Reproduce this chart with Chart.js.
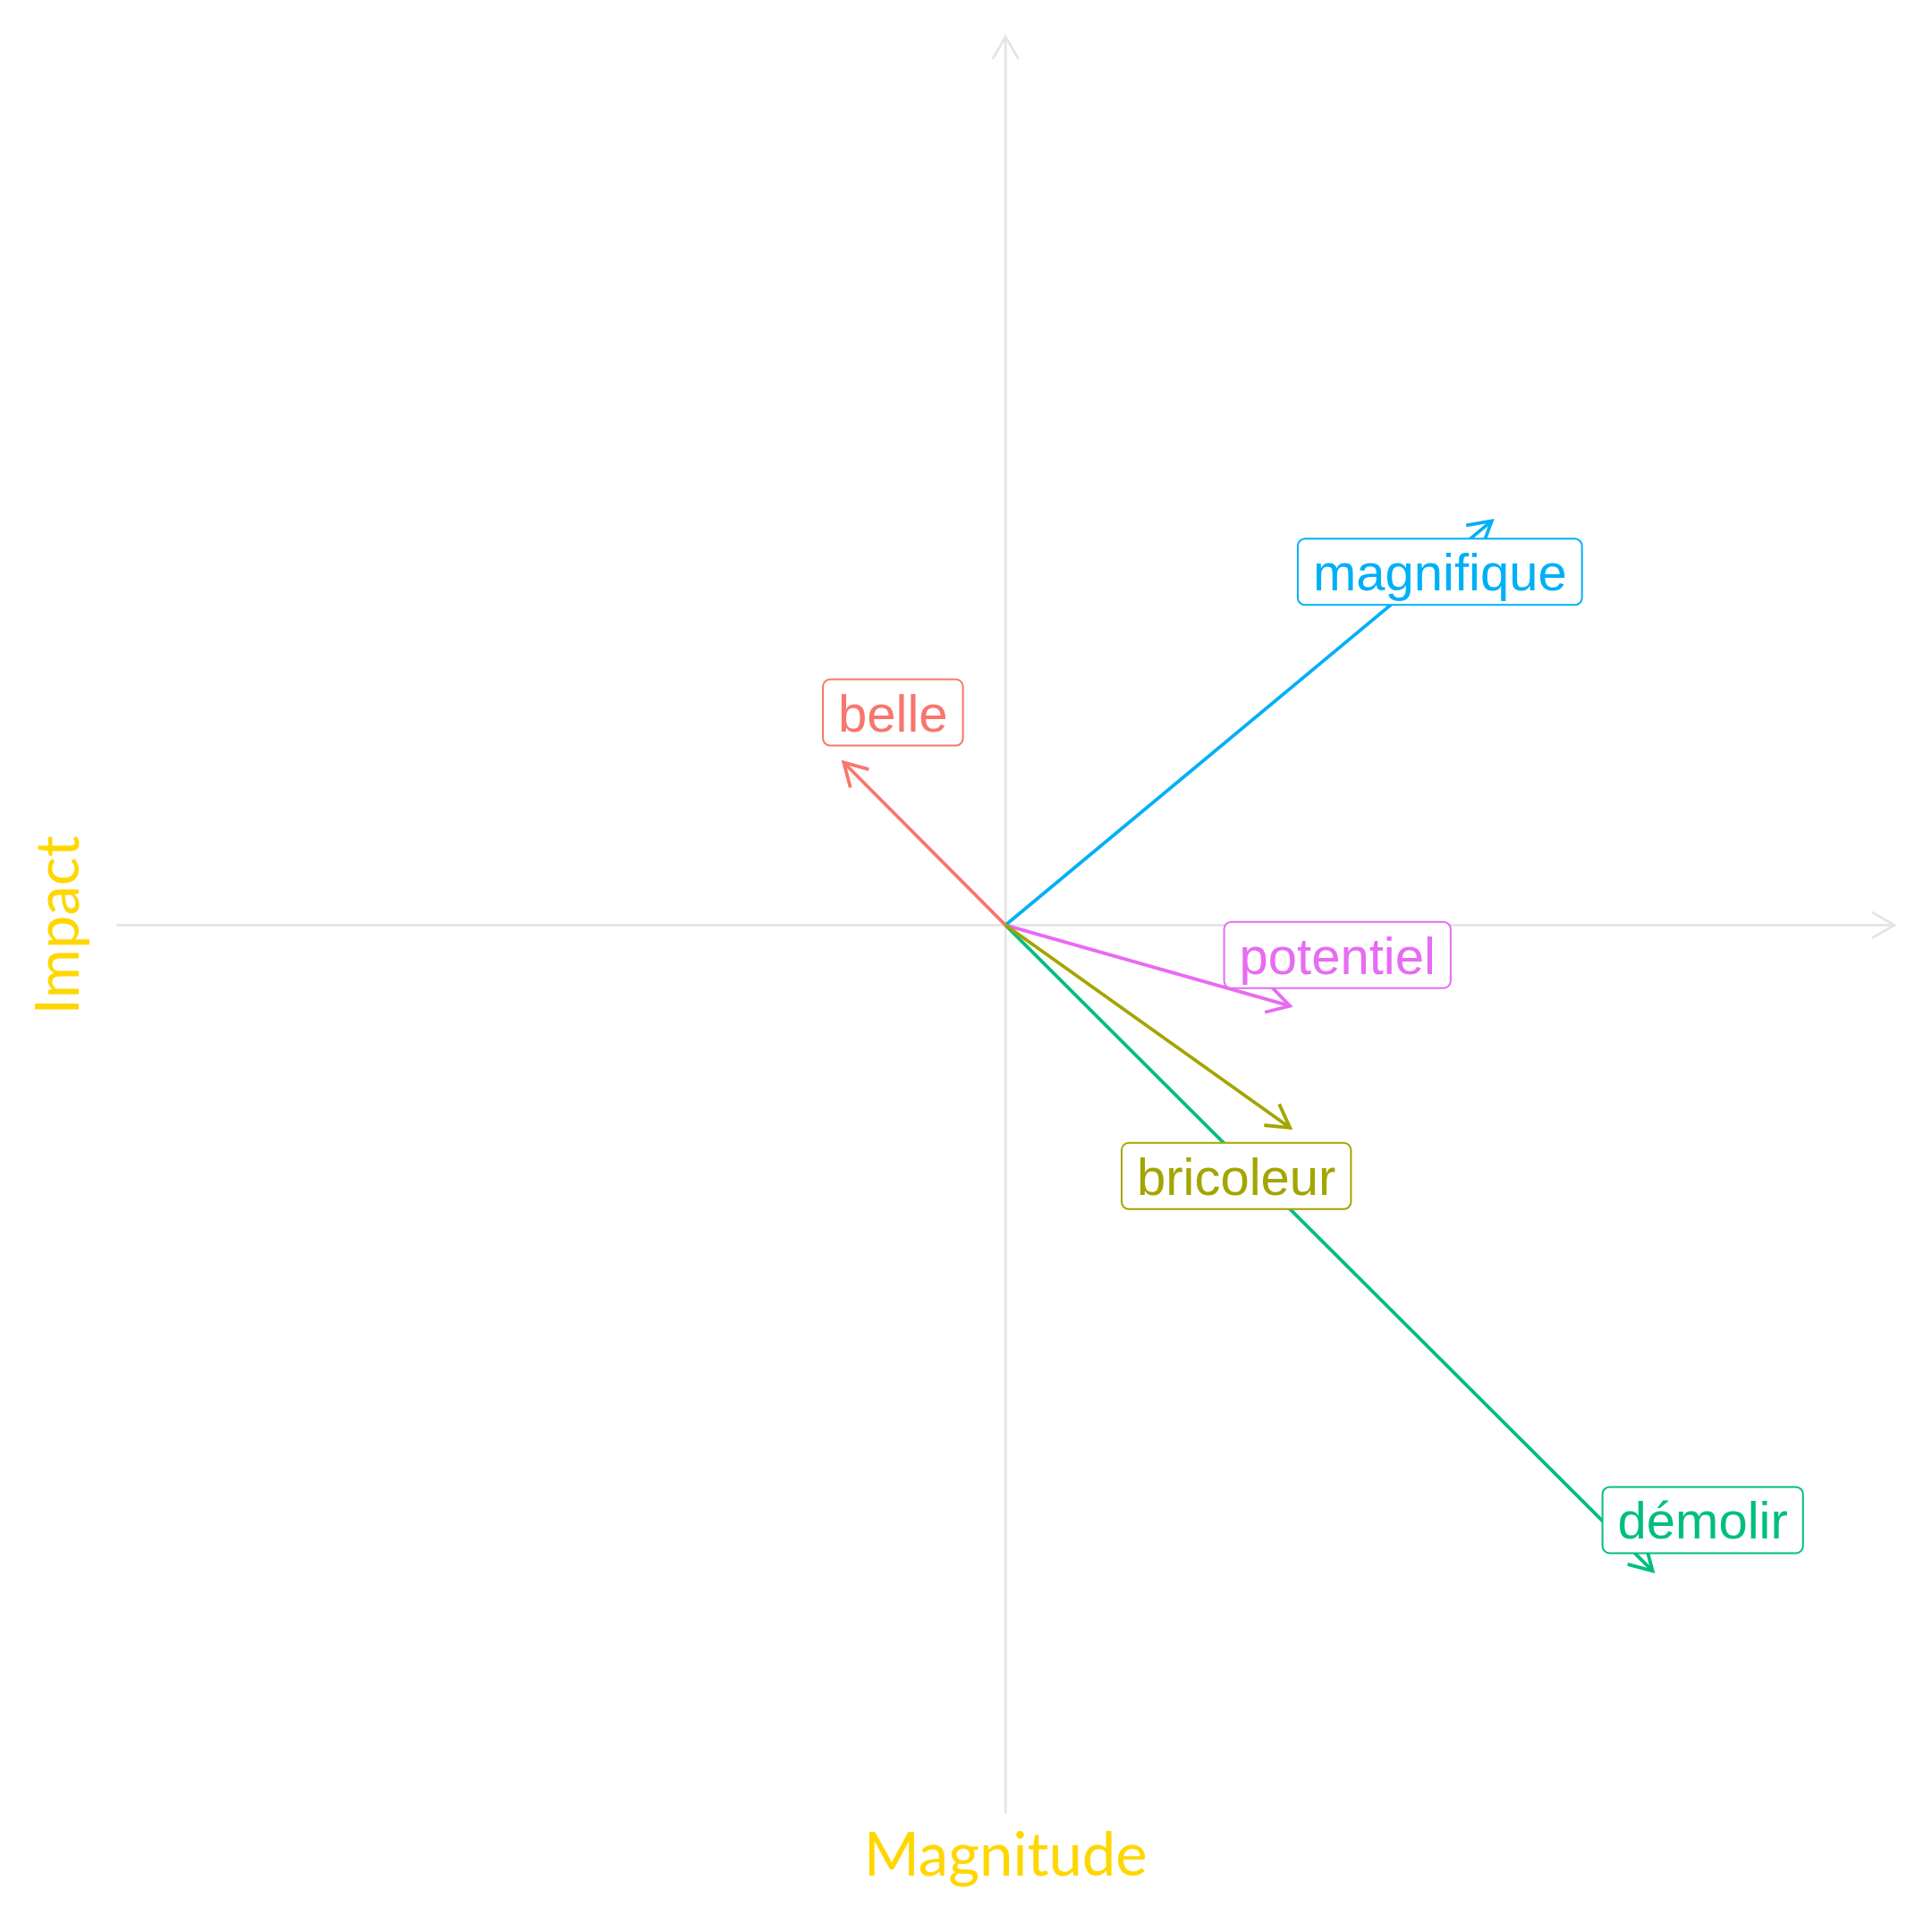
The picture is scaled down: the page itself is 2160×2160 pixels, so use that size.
<!DOCTYPE html>
<html>
<head>
<meta charset="utf-8">
<title>Magnitude / Impact</title>
<script src="https://cdn.jsdelivr.net/npm/chart.js@4.4.1/dist/chart.umd.min.js"></script>
<style>
  html, body { margin: 0; padding: 0; background: #ffffff; }
  #wrap { width: 2160px; height: 2160px; }
</style>
</head>
<body>
<div id="wrap"><canvas id="vector-chart"></canvas></div>
<script>
(function () {
    "use strict";

    // Data
    var words = ["belle", "bricoleur", "démolir", "magnifique", "potentiel"];
    var magnitude = [-0.182, 0.32, 0.728, 0.547, 0.32];
    var impact = [0.183, -0.228, -0.727, 0.455, -0.091];
    var colors = ["#F8766D", "#A3A500", "#00BF7D", "#00B0F6", "#E76BF3"];

    // where each label box sits, relative to the arrow tip (px)
    var labelNudge = [[55, -56], [-60, 54], [56, -57], [-58, 57], [53, -57]];

    var AXIS_GREY = "#E5E5E5";
    var TITLE_GOLD = "#FFD700";

    // open chevron arrow head
    function drawHead(ctx, x0, y0, x1, y1, len, color, width) {
        var ang = Math.atan2(y1 - y0, x1 - x0);
        var spread = Math.PI / 6;
        ctx.save();
        ctx.strokeStyle = color;
        ctx.lineWidth = width;
        ctx.lineCap = "butt";
        ctx.lineJoin = "miter";
        ctx.beginPath();
        ctx.moveTo(x1 - len * Math.cos(ang - spread), y1 - len * Math.sin(ang - spread));
        ctx.lineTo(x1, y1);
        ctx.lineTo(x1 - len * Math.cos(ang + spread), y1 - len * Math.sin(ang + spread));
        ctx.stroke();
        ctx.restore();
    }

    // Axis lines through the origin
    var originAxes = {
        id: "originAxes",
        beforeDatasetsDraw: function (chart) {
            var ctx = chart.ctx;
            var xs = chart.scales.x, ys = chart.scales.y;
            var x0 = xs.getPixelForValue(0), y0 = ys.getPixelForValue(0);
            var xl = xs.getPixelForValue(xs.min), xr = xs.getPixelForValue(xs.max);
            var yt = ys.getPixelForValue(ys.max), yb = ys.getPixelForValue(ys.min);
            ctx.save();
            ctx.strokeStyle = AXIS_GREY;
            ctx.lineWidth = 2.8;
            ctx.beginPath();
            ctx.moveTo(xl, y0);
            ctx.lineTo(xr, y0);
            ctx.moveTo(x0, yb);
            ctx.lineTo(x0, yt);
            ctx.stroke();
            ctx.restore();
            drawHead(ctx, x0, y0, xr, y0, 29, AXIS_GREY, 2.8);
            drawHead(ctx, x0, y0, x0, yt, 29, AXIS_GREY, 2.8);
        }
    };

    // Arrow heads + labels
    var arrowLabels = {
        id: "arrowLabels",
        afterDatasetsDraw: function (chart) {
            var ctx = chart.ctx;
            chart.data.datasets.forEach(function (ds, i) {
                var pts = chart.getDatasetMeta(i).data;
                drawHead(ctx, pts[0].x, pts[0].y, pts[1].x, pts[1].y, 29, ds.borderColor, 3.8);
            });
            chart.data.datasets.forEach(function (ds, i) {
                var pts = chart.getDatasetMeta(i).data;
                var cx = pts[1].x + labelNudge[i][0];
                var cy = pts[1].y + labelNudge[i][1];
                ctx.save();
                ctx.font = "58px 'Liberation Sans', Arial, sans-serif";
                var w = ctx.measureText(ds.label).width + 34;
                var h = 74;
                ctx.beginPath();
                ctx.roundRect(cx - w / 2, cy - h / 2, w, h, 8);
                ctx.fillStyle = "#ffffff";
                ctx.fill();
                ctx.lineWidth = 2;
                ctx.strokeStyle = ds.borderColor;
                ctx.stroke();
                ctx.fillStyle = ds.borderColor;
                ctx.textAlign = "center";
                ctx.textBaseline = "alphabetic";
                ctx.fillText(ds.label, cx, cy + 21);
                ctx.restore();
            });
        }
    };

    var datasets = words.map(function (w, i) {
        return {
            label: w,
            data: [{ x: 0, y: 0 }, { x: magnitude[i], y: impact[i] }],
            showLine: true,
            borderColor: colors[i],
            backgroundColor: colors[i],
            borderWidth: 3.8,
            pointRadius: 0,
            pointHoverRadius: 0
        };
    });

    var ctx = document.getElementById("vector-chart").getContext("2d");
    var myChart = new Chart(ctx, {
        type: "scatter",
        data: { datasets: datasets },
        options: {
            responsive: true,
            maintainAspectRatio: false,
            animation: false,
            layout: {
                padding: { top: 41, right: 42, bottom: 44, left: 26 }
            },
            scales: {
                x: {
                    type: "linear",
                    min: -1,
                    max: 1,
                    grid: { display: false, drawTicks: false },
                    border: { display: false },
                    ticks: { display: false },
                    title: {
                        display: true,
                        text: "Magnitude",
                        color: TITLE_GOLD,
                        font: { family: "Lato, 'Open Sans', sans-serif", size: 67 },
                        padding: { top: 8, bottom: 0 }
                    }
                },
                y: {
                    type: "linear",
                    min: -1,
                    max: 1,
                    grid: { display: false, drawTicks: false },
                    border: { display: false },
                    ticks: { display: false },
                    title: {
                        display: true,
                        text: "Impact",
                        color: TITLE_GOLD,
                        font: { family: "Lato, 'Open Sans', sans-serif", size: 67 },
                        padding: { top: 0, bottom: 24 }
                    }
                }
            },
            plugins: {
                legend: { display: false },
                tooltip: { enabled: false }
            }
        },
        plugins: [originAxes, arrowLabels]
    });
})();
</script>
</body>
</html>
